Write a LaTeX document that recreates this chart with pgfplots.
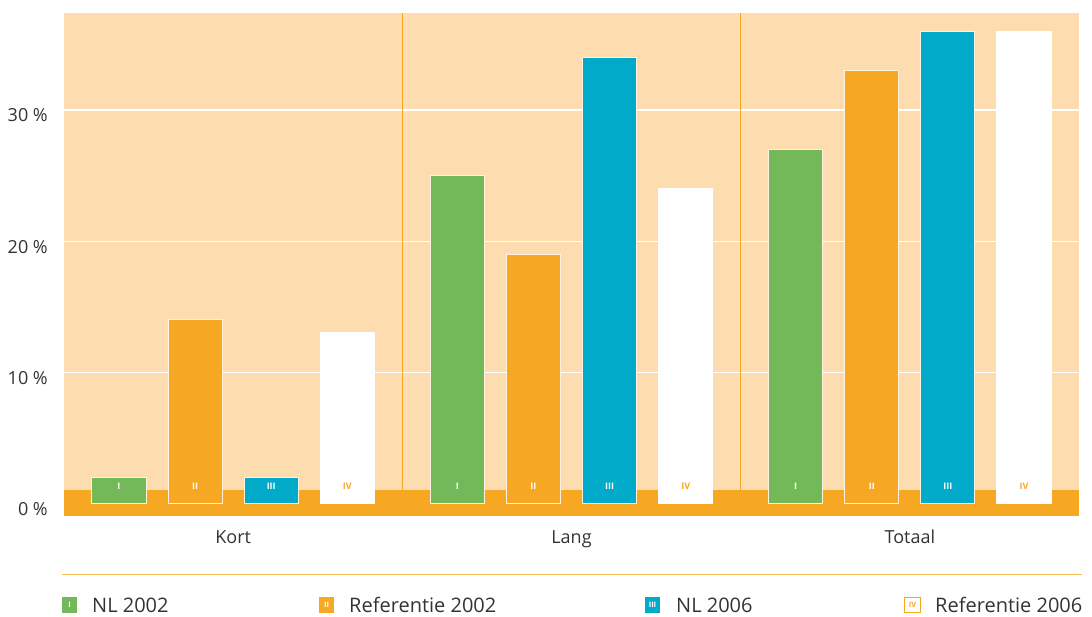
\documentclass[border=0pt]{standalone}
\usepackage{pgfplots}
\pgfplotsset{compat=1.18}
\usepackage{fontspec}
\setmainfont{Open Sans}
\definecolor{bg}{HTML}{FDDDAF}
\definecolor{org}{HTML}{F7A823}
\definecolor{grn}{HTML}{74B959}
\definecolor{blu}{HTML}{00AAC8}
\definecolor{txt}{HTML}{333333}
\definecolor{edge}{HTML}{FFF3E0}
\begin{document}
\begin{tikzpicture}[x=1pt,y=1pt]
\useasboundingbox (-64,-101) rectangle (1028,516);
\begin{axis}[at={(0,0)}, anchor=south west, scale only axis,
  width=1015pt, height=503pt,
  xmin=-0.5, xmax=2.5, ymin=-0.953, ymax=37.39,
  axis line style={draw=none},
  axis background/.style={fill=bg},
  ytick={0,10,20,30}, yticklabels={0 \%,10 \%,20 \%,30 \%},
  xtick={0,1,2}, xticklabels={Kort,Lang,Totaal},
  major tick length=0pt,
  ymajorgrids, grid style={white, line width=1.2pt},
  yticklabel style={anchor=base east, inner sep=0pt, xshift=-16pt, yshift=-12pt,
    font=\fontsize{18}{20}\selectfont, text=txt},
  xticklabel style={anchor=base, inner sep=0pt, yshift=-28pt,
    font=\fontsize{18}{20}\selectfont, text=txt},
  bar width=0.16,
  clip=false,
]
\draw[org, line width=1pt] (axis cs:0.5,0) -- (axis cs:0.5,37.39);
\draw[org, line width=1pt] (axis cs:1.5,0) -- (axis cs:1.5,37.39);
\fill[org] (axis cs:-0.5,-0.953) rectangle (axis cs:2.5,1.03);
\addplot[ybar, bar shift=-0.3375, fill=grn, draw=edge, line width=1pt] coordinates {(0,2) (1,25) (2,27)};
\addplot[ybar, bar shift=-0.1125, fill=org, draw=edge, line width=1pt] coordinates {(0,14) (1,19) (2,33)};
\addplot[ybar, bar shift=0.1125, fill=blu, draw=edge, line width=1pt] coordinates {(0,2) (1,34) (2,36)};
\addplot[ybar, bar shift=0.3375, fill=white, draw=white, line width=1pt] coordinates {(0,13) (1,24) (2,36)};
\addplot[only marks, mark=none, nodes near coords, point meta=explicit symbolic,
  nodes near coords style={anchor=center, inner sep=0pt, text=white, font=\bfseries\fontsize{9}{9}\selectfont}]
  table[meta=l] {
x y l
-0.3375 1.33 I
0.6625 1.33 I
1.6625 1.33 I
-0.1125 1.33 II
0.8875 1.33 II
1.8875 1.33 II
0.1125 1.33 III
1.1125 1.33 III
2.1125 1.33 III
};
\addplot[only marks, mark=none, nodes near coords, point meta=explicit symbolic,
  nodes near coords style={anchor=center, inner sep=0pt, text=org, font=\bfseries\fontsize{9}{9}\selectfont}]
  table[meta=l] {
x y l
0.3375 1.33 IV
1.3375 1.33 IV
2.3375 1.33 IV
};
\end{axis}
\draw[org!75, line width=1pt] (-2,-59) -- (1018,-59);
\tikzset{leg/.style={anchor=base west, inner sep=0pt, text=txt, font=\fontsize{20}{22}\selectfont},
  num/.style={inner sep=0pt, font=\bfseries\fontsize{7.5}{7.5}\selectfont}}
\fill[grn] (-2,-97) rectangle (13,-81);
\node[num, text=white] at (5.5,-89) {I};
\node[leg] at (28,-97) {NL 2002};
\fill[org] (255,-97) rectangle (270,-81);
\node[num, text=white] at (262.5,-89) {II};
\node[leg] at (285,-97) {Referentie 2002};
\fill[blu] (581,-97) rectangle (596,-81);
\node[num, text=white] at (588.5,-89) {III};
\node[leg] at (612,-97) {NL 2006};
\draw[org, fill=white, line width=1pt] (840.5,-96.5) rectangle (856.5,-81.5);
\node[num, text=org] at (848.5,-89) {IV};
\node[leg] at (871,-97) {Referentie 2006};
\end{tikzpicture}
\end{document}
